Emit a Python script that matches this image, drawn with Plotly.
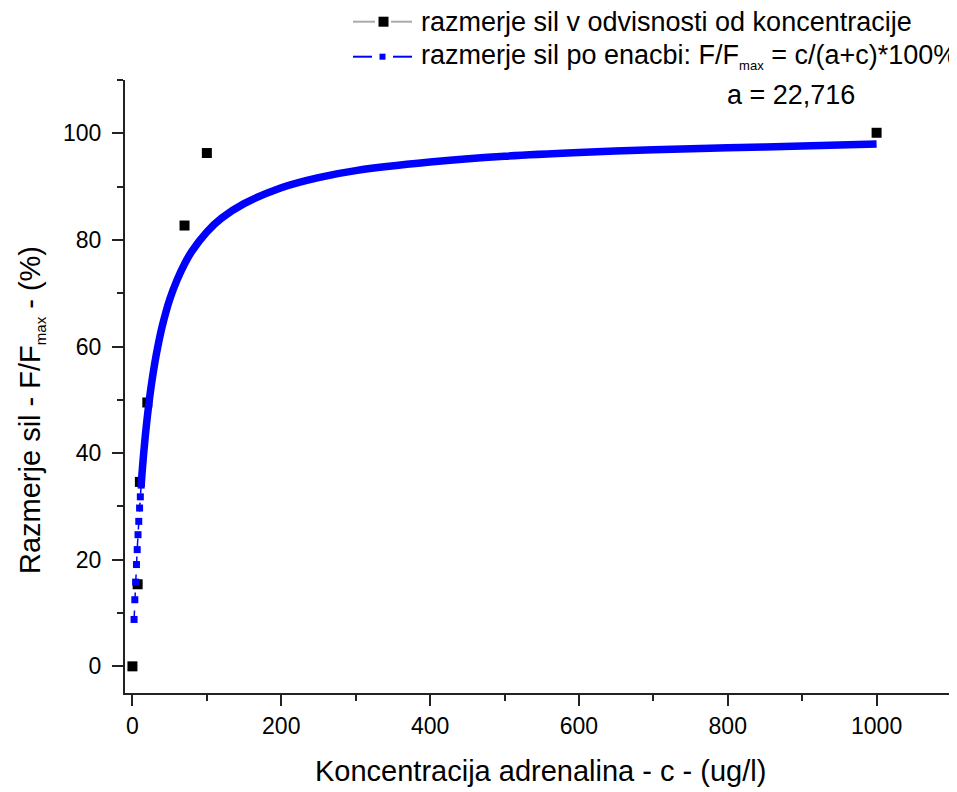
import plotly.graph_objects as go

# Measured data: concentration (ug/l) and force ratio (%)
conc = [0, 7, 10, 20, 70, 100, 1000]
ratio = [0, 15.4, 34.6, 49.5, 82.7, 96.3, 100.1]

# Fitted curve (discrete markers near the origin)
fit_low_c = [2.2, 3.2, 4.3, 5.4, 6.4, 7.5, 8.5, 9.6, 10.6, 11.7]
fit_low_v = [8.8, 12.5, 15.8, 19.1, 21.9, 24.7, 27.2, 29.7, 31.8, 34.0]

# Fitted curve (dense band)
fit_c = [11.7, 13, 15, 17, 20, 25, 30, 35, 40, 50, 60, 70, 80, 100, 120, 150,
         200, 250, 300, 400, 500, 600, 700, 800, 900, 1000]
fit_v = [34.0, 36.4, 39.8, 42.8, 46.8, 52.4, 56.9, 60.6, 63.8, 68.8, 72.5, 75.5,
         77.9, 81.5, 84.1, 86.8, 89.8, 91.7, 93.0, 94.6, 95.7, 96.4, 96.9, 97.3,
         97.6, 98.0]

SUB_L = '<sub><span style="font-size:13px">max</span></sub>'
SUB_T = '<sub><span style="font-size:15px">max</span></sub>'
legend1_text = "razmerje sil v odvisnosti od koncentracije"
legend2_text = "razmerje sil po enacbi: F/F" + SUB_L + " = c/(a+c)*100%"
param_text = "a = 22,716"
x_title = "Koncentracija adrenalina - c - (ug/l)"
y_title = "Razmerje sil - F/F" + SUB_T + " - (%)"

FONT = "Liberation Sans, Arial, sans-serif"
BLUE = "#0000FF"
AX = "#222222"

# the page body adds an 8px offset, so the figure is drawn 8px smaller
OFF = 8
W, H = 957 - OFF, 792 - OFF
L, R, T, B = 125 - OFF, 6, 80 - OFF, 99
PW, PH = W - L - R, H - T - B


def px(xp):  # page pixel -> paper x
    return (xp - OFF - L) / PW


def py(yp):  # page pixel -> paper y
    return (H - B - (yp - OFF)) / PH


fig = go.Figure()

# measured points
fig.add_trace(go.Scatter(
    x=conc, y=ratio, mode="markers", showlegend=False,
    marker=dict(symbol="square", size=10, color="black"),
))
# fit curve: thin dashed part with markers
fig.add_trace(go.Scatter(
    x=fit_low_c, y=fit_low_v, mode="lines+markers", showlegend=False,
    line=dict(color=BLUE, width=1.5, dash="dash"),
    marker=dict(symbol="square", size=7, color=BLUE),
))
# fit curve: dense band
fig.add_trace(go.Scatter(
    x=fit_c, y=fit_v, mode="lines", showlegend=False,
    line=dict(color=BLUE, width=7.5, shape="spline"),
))

axis_common = dict(
    showline=True, linecolor=AX, linewidth=2,
    showgrid=False, zeroline=False, automargin=False,
    ticks="outside", ticklen=11, tickwidth=2, tickcolor=AX,
    tickfont=dict(family=FONT, size=23, color="black"),
    mirror=False,
)
fig.update_xaxes(
    range=[-10, 1100], dtick=200, tick0=0,
    minor=dict(ticks="outside", ticklen=6, tickwidth=2, tickcolor=AX, dtick=100),
    **axis_common,
)
fig.update_yaxes(
    range=[-5, 110], dtick=20, tick0=0, ticklabelstandoff=6,
    minor=dict(ticks="outside", ticklen=6, tickwidth=2, tickcolor=AX, dtick=10),
    **axis_common,
)

tfont = dict(family=FONT, size=29, color="black")
lfont = dict(family=FONT, size=27, color="black")
annotations = [
    dict(text=x_title, x=px(540), y=py(771), xanchor="center", yanchor="middle",
         font=tfont),
    dict(text=y_title, x=px(31), y=py(410), xanchor="center", yanchor="middle",
         textangle=-90, font=tfont),
    dict(text=legend1_text, x=px(419), y=py(21.7), xanchor="left", yanchor="middle",
         font=lfont),
    dict(text=legend2_text, x=px(419), y=py(57), xanchor="left", yanchor="middle",
         font=lfont),
    dict(text=param_text, x=px(725), y=py(95), xanchor="left", yanchor="middle",
         font=lfont),
]
for a in annotations:
    a.update(xref="paper", yref="paper", showarrow=False)

shapes = []
# legend symbol 1: gray line with black square
for x0, x1 in [(353, 375), (391, 412)]:
    shapes.append(dict(type="line", x0=px(x0), x1=px(x1), y0=py(21.7), y1=py(21.7),
                       line=dict(color="#AAAAAA", width=2)))
shapes.append(dict(type="rect", x0=px(378.5), x1=px(388.5), y0=py(16.7), y1=py(26.7),
                   fillcolor="black", line=dict(width=0)))
# legend symbol 2: blue line with blue square
for x0, x1 in [(353, 372), (393, 412)]:
    shapes.append(dict(type="line", x0=px(x0), x1=px(x1), y0=py(56.7), y1=py(56.7),
                       line=dict(color=BLUE, width=2)))
shapes.append(dict(type="rect", x0=px(379.5), x1=px(385.5), y0=py(53.7), y1=py(59.7),
                   fillcolor=BLUE, line=dict(width=0)))
for s in shapes:
    s.update(xref="paper", yref="paper", layer="above")

fig.update_layout(
    width=W, height=H,
    margin=dict(l=L, r=R, t=T, b=B, autoexpand=False),
    paper_bgcolor="white", plot_bgcolor="white",
    font=dict(family=FONT, color="black"),
    showlegend=False,
    annotations=annotations,
    shapes=shapes,
)

fig.write_html("out.html")
